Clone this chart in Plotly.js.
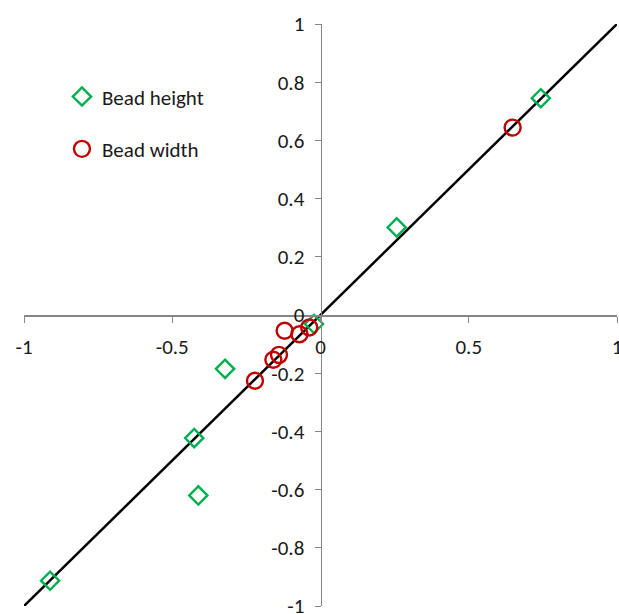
<!DOCTYPE html>
<html>
<head>
<meta charset="utf-8">
<script src="https://cdn.plot.ly/plotly-3.0.1.min.js"></script>
<style>html,body{margin:0;padding:0;background:#fff;}#chart{width:619px;height:614px;}</style>
</head>
<body>
<div id="chart"></div>
<script>
// Bead height (green diamonds)
const heightX = [0.743, 0.257, -0.022, -0.322, -0.426, -0.412, -0.912];
const heightY = [0.745, 0.301, -0.031, -0.185, -0.423, -0.620, -0.913];
// Bead width (red circles)
const widthX = [0.648, -0.121, -0.071, -0.038, -0.140, -0.159, -0.221];
const widthY = [0.644, -0.054, -0.066, -0.043, -0.137, -0.154, -0.226];
// 1:1 reference line
const lineX = [-1, 1];
const lineY = [-1, 1];
const xTicks = [-1, -0.5, 0, 0.5, 1];
const yTicks = [-1, -0.8, -0.6, -0.4, -0.2, 0, 0.2, 0.4, 0.6, 0.8, 1];

const fontFam = 'Carlito, Calibri, Lato, "Open Sans", sans-serif';
const traces = [
  {x: lineX, y: lineY, mode: 'lines', line: {color: '#000', width: 2.5}, showlegend: false, hoverinfo: 'skip'},
  {x: heightX, y: heightY, mode: 'markers', name: 'Bead height', legendgroup: 'a',
   marker: {symbol: 'diamond-open', size: 14, color: '#00B050', line: {width: 2.4, color: '#00B050'}}},
  {x: widthX, y: widthY, mode: 'markers', name: 'Bead width', legendgroup: 'b',
   marker: {symbol: 'circle-open', size: 16, color: '#C00000', line: {width: 2.4, color: '#C00000'}}}
];
const layout = {
  width: 619, height: 614,
  margin: {l: 24, r: 2, t: 24, b: 8},
  paper_bgcolor: '#fff', plot_bgcolor: '#fff',
  font: {family: fontFam, size: 21, color: '#1a1a1a'},
  showlegend: true,
  legend: {x: 0.064, y: 0.91, xanchor: 'left', yanchor: 'top', tracegroupgap: 22,
           font: {size: 21, color: '#1a1a1a'}, bgcolor: 'rgba(0,0,0,0)'},
  xaxis: {range: [-1, 1], tickvals: xTicks, ticktext: xTicks.map(String), showgrid: false, zeroline: false,
          showline: true, linecolor: '#868686', linewidth: 1.5, ticks: 'outside', ticklen: 6, tickcolor: '#868686',
          anchor: 'free', position: 0.5, ticklabelstandoff: 6, ticklabeloverflow: 'allow', fixedrange: true},
  yaxis: {range: [-1, 1], tickvals: yTicks, ticktext: yTicks.map(String), showgrid: false, zeroline: false,
          showline: true, linecolor: '#868686', linewidth: 1.5, ticks: 'outside', ticklen: 6, tickcolor: '#868686',
          anchor: 'free', position: 0.5, ticklabelstandoff: 6, ticklabeloverflow: 'allow', fixedrange: true}
};
Plotly.newPlot('chart', traces, layout, {displayModeBar: false, staticPlot: true});
</script>
</body>
</html>
